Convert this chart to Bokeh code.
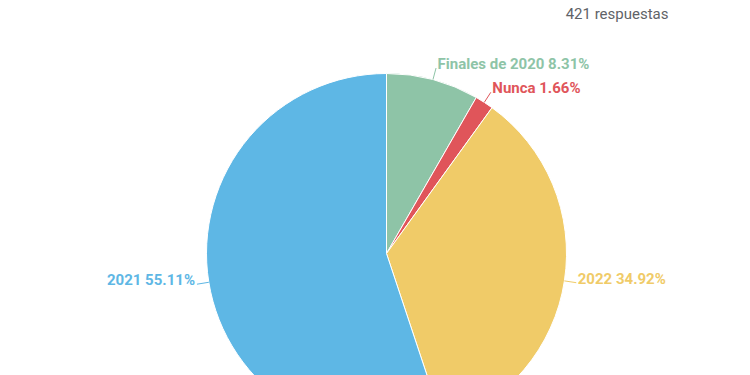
import math
from bokeh.plotting import figure
from bokeh.models import Range1d, ColumnDataSource
from bokeh.core.properties import value
from bokeh.embed import file_html
from bokeh.resources import INLINE

# ---- data ----
categories = ["Finales de 2020", "Nunca", "2022", "2021"]
percentages = [8.31, 1.66, 34.92, 55.11]
total_label = "421 respuestas"

# ---- style ----
colors = ["#8EC4A7", "#E0555A", "#F0CB68", "#5EB7E5"]
W, H = 750, 375
cx, cy = 386, H - 253
R = 180
LEAD = 12

p = figure(width=W, height=H, output_backend="svg", toolbar_location=None,
           x_range=Range1d(0, W), y_range=Range1d(0, H), min_border=0)
p.axis.visible = False
p.grid.visible = False
p.outline_line_color = None
p.background_fill_color = "white"
p.border_fill_color = "white"

total = sum(percentages)
starts, ends, mids = [], [], []
cum = 0.0
for v in percentages:
    a0 = cum / total * 2 * math.pi
    cum += v
    a1 = cum / total * 2 * math.pi
    starts.append(math.pi / 2 - a0)
    ends.append(math.pi / 2 - a1)
    mids.append((a0 + a1) / 2)

src = ColumnDataSource(dict(start=starts, end=ends, color=colors))
p.wedge(x=cx, y=cy, radius=R, start_angle="start", end_angle="end",
        direction="clock", fill_color="color", line_color="white",
        line_width=1, source=src)

# leader lines and labels
xs, ys, lx, ly, txt, align = [], [], [], [], [], []
for cat, v, m in zip(categories, percentages, mids):
    sx, sy = cx + R * math.sin(m), cy + R * math.cos(m)
    ex, ey = cx + (R + LEAD) * math.sin(m), cy + (R + LEAD) * math.cos(m)
    xs.append([sx, ex])
    ys.append([sy, ey])
    right = math.sin(m) >= 0
    lx.append(ex + 1.5 if right else ex - 2)
    ly.append(ey + 4)
    align.append("left" if right else "right")
    txt.append(f"{cat} {v:.2f}%")

lsrc = ColumnDataSource(dict(xs=xs, ys=ys, color=colors))
p.multi_line(xs="xs", ys="ys", line_color="color", line_width=1, source=lsrc)

tsrc = ColumnDataSource(dict(x=lx, y=ly, text=txt, color=colors, align=align))
p.text(x="x", y="y", text="text", text_color="color", text_align="align",
       text_baseline="alphabetic", text_font=value("Roboto"),
       text_font_style="bold", text_font_size="15px", source=tsrc)

p.text(x=[668], y=[H - 13], text=[total_label], text_color="#5f6368",
       text_align="right", text_baseline="alphabetic",
       text_font=value("Roboto"), text_font_size="15px")

open("out.html", "w").write(file_html(p, INLINE))
